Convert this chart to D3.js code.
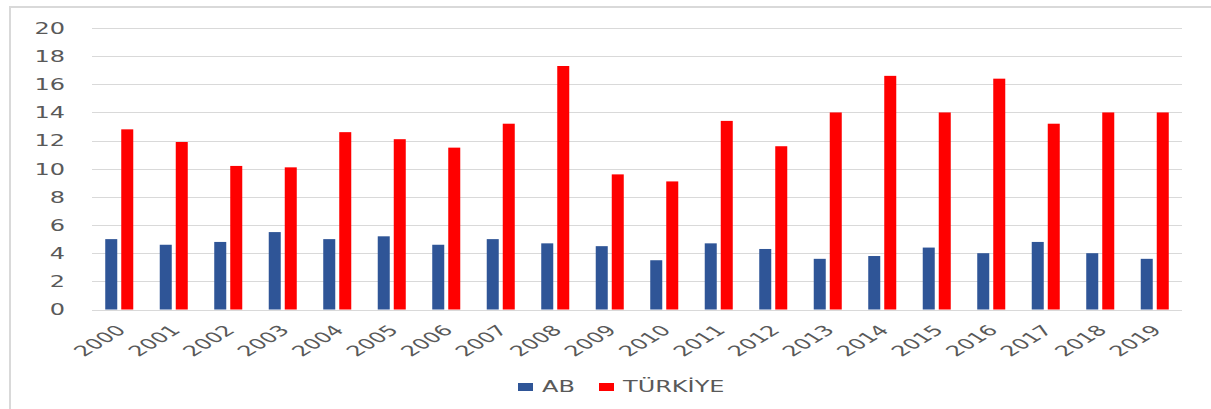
<!DOCTYPE html>
<html>
<head>
<meta charset="utf-8">
<script src="https://cdn.jsdelivr.net/npm/d3@7"></script>
<style>
  body { margin: 0; background: #fff; }
  text { font-family: "DejaVu Sans", sans-serif; fill: #595959; }
</style>
</head>
<body>
<svg id="chart" width="1211" height="409"></svg>
<script>
// chart data
const years = ["2000","2001","2002","2003","2004","2005","2006","2007","2008","2009",
               "2010","2011","2012","2013","2014","2015","2016","2017","2018","2019"];
const seriesNames = ["AB", "TÜRKİYE"];
const abValues = [5.0, 4.6, 4.8, 5.5, 5.0, 5.2, 4.6, 5.0, 4.7, 4.5,
                  3.5, 4.7, 4.3, 3.6, 3.8, 4.4, 4.0, 4.8, 4.0, 3.6];
const trValues = [12.8, 11.9, 10.2, 10.1, 12.6, 12.1, 11.5, 13.2, 17.3, 9.6,
                  9.1, 13.4, 11.6, 14.0, 16.6, 14.0, 16.4, 13.2, 14.0, 14.0];
const yTicks = [0, 2, 4, 6, 8, 10, 12, 14, 16, 18, 20];
const colors = ["#2f5597", "#ff0000"];

const svg = d3.select("#chart");

// outer frame
svg.append("rect")
  .attr("x", 10).attr("y", 7)
  .attr("width", 1215).attr("height", 420)
  .attr("fill", "none")
  .attr("stroke", "#d9d9d9")
  .attr("stroke-width", 2);

const plotLeft = 92, plotRight = 1182, plotTop = 28, plotBottom = 309.5;

const x = d3.scaleBand()
  .domain(years)
  .range([plotLeft, plotRight])
  .paddingInner(0.486)
  .paddingOuter(0.243);

const xs = d3.scaleBand()
  .domain(seriesNames)
  .range([0, x.bandwidth()])
  .paddingInner(0.25);

const y = d3.scaleLinear()
  .domain([0, 20])
  .range([plotBottom, plotTop]);

// gridlines
svg.append("g")
  .selectAll("line")
  .data(yTicks)
  .join("line")
    .attr("x1", plotLeft).attr("x2", plotRight)
    .attr("y1", d => Math.round(y(d)) + 0.5)
    .attr("y2", d => Math.round(y(d)) + 0.5)
    .attr("stroke", "#d9d9d9")
    .attr("stroke-width", 1);

// y labels (stretched horizontally like the source image)
svg.append("g")
  .selectAll("text")
  .data(yTicks)
  .join("text")
    .attr("transform", d => `translate(65,${y(d)}) scale(1.5,1)`)
    .attr("text-anchor", "end")
    .attr("dy", "0.36em")
    .style("font-size", "16px")
    .text(d => d);

// bars
const rows = years.map((yr, i) => ({ year: yr, values: [abValues[i], trValues[i]] }));

const groups = svg.append("g")
  .selectAll("g")
  .data(rows)
  .join("g")
    .attr("transform", d => `translate(${x(d.year)},0)`);

groups.selectAll("rect")
  .data(d => d.values.map((v, k) => ({ name: seriesNames[k], value: v, k })))
  .join("rect")
    .attr("x", d => xs(d.name))
    .attr("width", xs.bandwidth())
    .attr("y", d => y(d.value))
    .attr("height", d => y(0) - y(d.value))
    .attr("fill", d => colors[d.k]);

// x labels, rotated
svg.append("g")
  .selectAll("text")
  .data(years)
  .join("text")
    .attr("transform", d => `translate(${x(d) + x.bandwidth() / 2 + 1},327) scale(1.65,1) rotate(-45)`)
    .attr("text-anchor", "end")
    .attr("dy", "0.4em")
    .style("font-size", "14.5px")
    .text(d => d);

// legend
const legendX = [518, 599];
const legend = svg.append("g")
  .selectAll("g")
  .data(seriesNames)
  .join("g")
    .attr("transform", (d, i) => `translate(${legendX[i]},383)`);

legend.append("rect")
  .attr("width", 15).attr("height", 8)
  .attr("fill", (d, i) => colors[i]);

legend.append("text")
  .attr("transform", "translate(24,4) scale(1.6,1)")
  .attr("dy", "0.36em")
  .style("font-size", "15px")
  .text(d => d);
</script>
</body>
</html>
